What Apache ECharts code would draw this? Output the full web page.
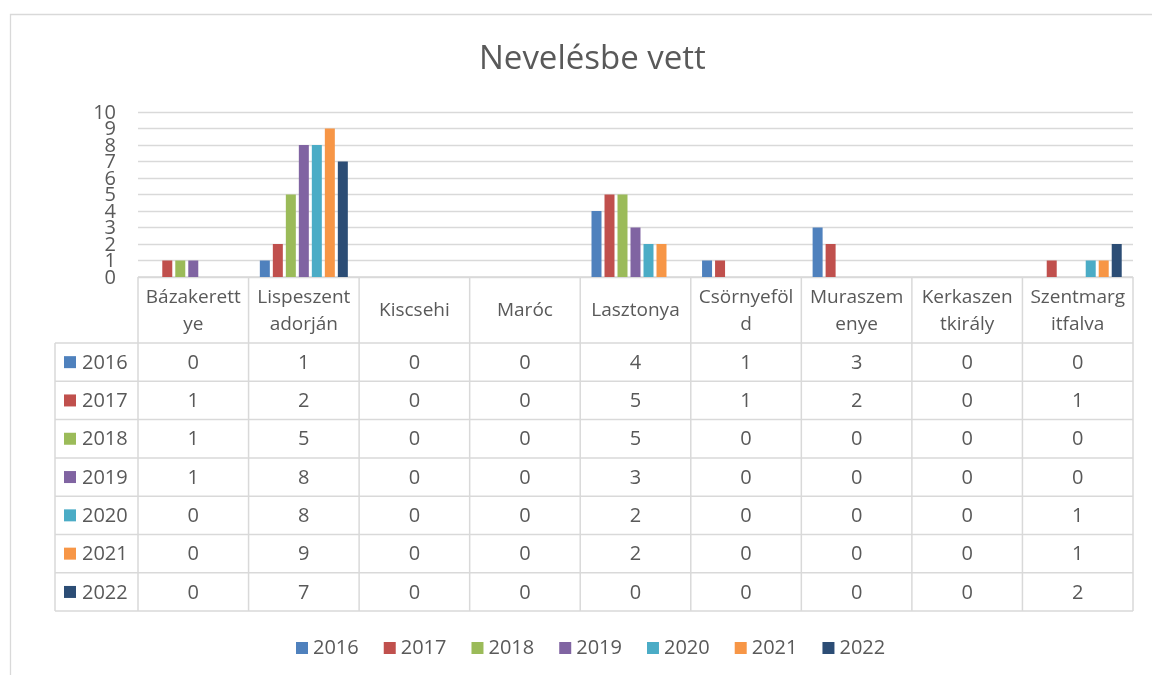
<!DOCTYPE html>
<html>
<head>
<meta charset="utf-8">
<script src="https://cdn.jsdelivr.net/npm/echarts@6/dist/echarts.min.js"></script>
<style>
html,body{margin:0;padding:0;background:#fff;}
#c{width:1152px;height:675px;}
</style>
</head>
<body>
<div id="c"></div>
<script>
const titleText = 'Nevelésbe vett';
const categories = ['Bázakerettye','Lispeszentadorján','Kiscsehi','Maróc','Lasztonya','Csörnyeföld','Muraszemenye','Kerkaszentkirály','Szentmargitfalva'];
const categoryLabels = ['Bázakerett\nye','Lispeszent\nadorján','Kiscsehi','Maróc','Lasztonya','Csörnyeföl\nd','Muraszem\nenye','Kerkaszen\ntkirály','Szentmarg\nitfalva'];
const years = ['2016','2017','2018','2019','2020','2021','2022'];
const v2016 = [0,1,0,0,4,1,3,0,0];
const v2017 = [1,2,0,0,5,1,2,0,1];
const v2018 = [1,5,0,0,5,0,0,0,0];
const v2019 = [1,8,0,0,3,0,0,0,0];
const v2020 = [0,8,0,0,2,0,0,0,1];
const v2021 = [0,9,0,0,2,0,0,0,1];
const v2022 = [0,7,0,0,0,0,0,0,2];
const yTicks = [0,1,2,3,4,5,6,7,8,9,10];
const colors = ['#4F81BD','#C0504D','#9BBB59','#8064A2','#4BACC6','#F79646','#2C4D75'];

const seriesValues = [v2016,v2017,v2018,v2019,v2020,v2021,v2022];
const FONT = '"Open Sans", "Noto Sans", sans-serif';
const TXT = '#595959';
const BORDER = '#D9D9D9';

const chart = echarts.init(document.getElementById('c'), null, {renderer:'canvas'});
const GRID = {left:138, right:19, top:112, bottom:398};

chart.setOption({
  animation:false,
  color: colors,
  title:{
    text:titleText, left:474, top:38,
    textStyle:{fontFamily:FONT, fontSize:33, fontWeight:'normal', color:TXT}
  },
  legend:{
    data: years, left:291, top:633, icon:'rect', itemWidth:12, itemHeight:12, itemGap:25,
    textStyle:{fontFamily:FONT, fontSize:20, color:TXT}
  },
  grid: GRID,
  xAxis:{
    type:'category', data:categories,
    axisLine:{show:false}, axisTick:{show:false}, axisLabel:{show:false}
  },
  yAxis:{
    type:'value', min:yTicks[0], max:yTicks[yTicks.length-1], interval:1,
    axisLine:{show:false}, axisTick:{show:false},
    axisLabel:{show:false},
    splitLine:{lineStyle:{color:BORDER, width:1.3}}
  },
  series: years.map((y,i)=>({
    name:y, type:'bar', data:seriesValues[i], barWidth:10, barGap:'30%',
    itemStyle:{color:colors[i]}
  }))
});

// Data table drawn under the plot, aligned with the category axis
const axisY = 675 - GRID.bottom;
const plotLeft = GRID.left;
const plotRight = 1152 - GRID.right;
const colW = (plotRight - plotLeft) / categories.length;
const headerH = 66;
const rowH = 38.3;
const tableLeft = 55;
const tableTop = axisY + headerH;
const tableBottom = tableTop + rowH * years.length;

const els = [];
function line(x1,y1,x2,y2){
  els.push({type:'line', silent:true, shape:{x1,y1,x2,y2}, style:{stroke:BORDER, lineWidth:1.5}});
}
// outer chart frame
els.push({type:'rect', silent:true, shape:{x:10.5,y:14.5,width:1300,height:800}, style:{fill:null, stroke:BORDER, lineWidth:1.3}});
// y-axis tick labels (overlapping, as in the reference), placed via the value scale
yTicks.forEach(t=>{
  const py = chart.convertToPixel({yAxisIndex:0}, t);
  els.push({type:'text', silent:true, x:plotLeft-22, y:py+1,
    style:{text:String(t), align:'right', verticalAlign:'middle', fontFamily:FONT, fontSize:20, fill:TXT}});
});
// header top line
line(plotLeft, axisY, plotRight, axisY);
// row lines
for(let r=0;r<=years.length;r++){
  const y = tableTop + r*rowH;
  line(tableLeft, y, plotRight, y);
}
// vertical lines
line(tableLeft, tableTop, tableLeft, tableBottom);
for(let c=0;c<=categories.length;c++){
  const x = plotLeft + c*colW;
  line(x, axisY, x, tableBottom);
}
// header labels
categories.forEach((cat,c)=>{
  const cx = chart.convertToPixel({xAxisIndex:0}, cat);
  els.push({type:'text', silent:true, x:cx, y:axisY + headerH/2 + 1,
    style:{text:categoryLabels[c], align:'center', verticalAlign:'middle', fontFamily:FONT, fontSize:19, lineHeight:27, fill:TXT}});
});
// rows
years.forEach((y,r)=>{
  const cy = tableTop + r*rowH + rowH/2;
  els.push({type:'rect', silent:true, shape:{x:64, y:cy-6, width:12, height:12}, style:{fill:colors[r]}});
  els.push({type:'text', silent:true, x:82, y:cy+1, style:{text:y, align:'left', verticalAlign:'middle', fontFamily:FONT, fontSize:20, fill:TXT}});
  seriesValues[r].forEach((v,c)=>{
    const cx = chart.convertToPixel({xAxisIndex:0}, categories[c]);
    els.push({type:'text', silent:true, x:cx, y:cy+1, style:{text:String(v), align:'center', verticalAlign:'middle', fontFamily:FONT, fontSize:20, fill:TXT}});
  });
});
chart.setOption({graphic: els});
</script>
</body>
</html>
